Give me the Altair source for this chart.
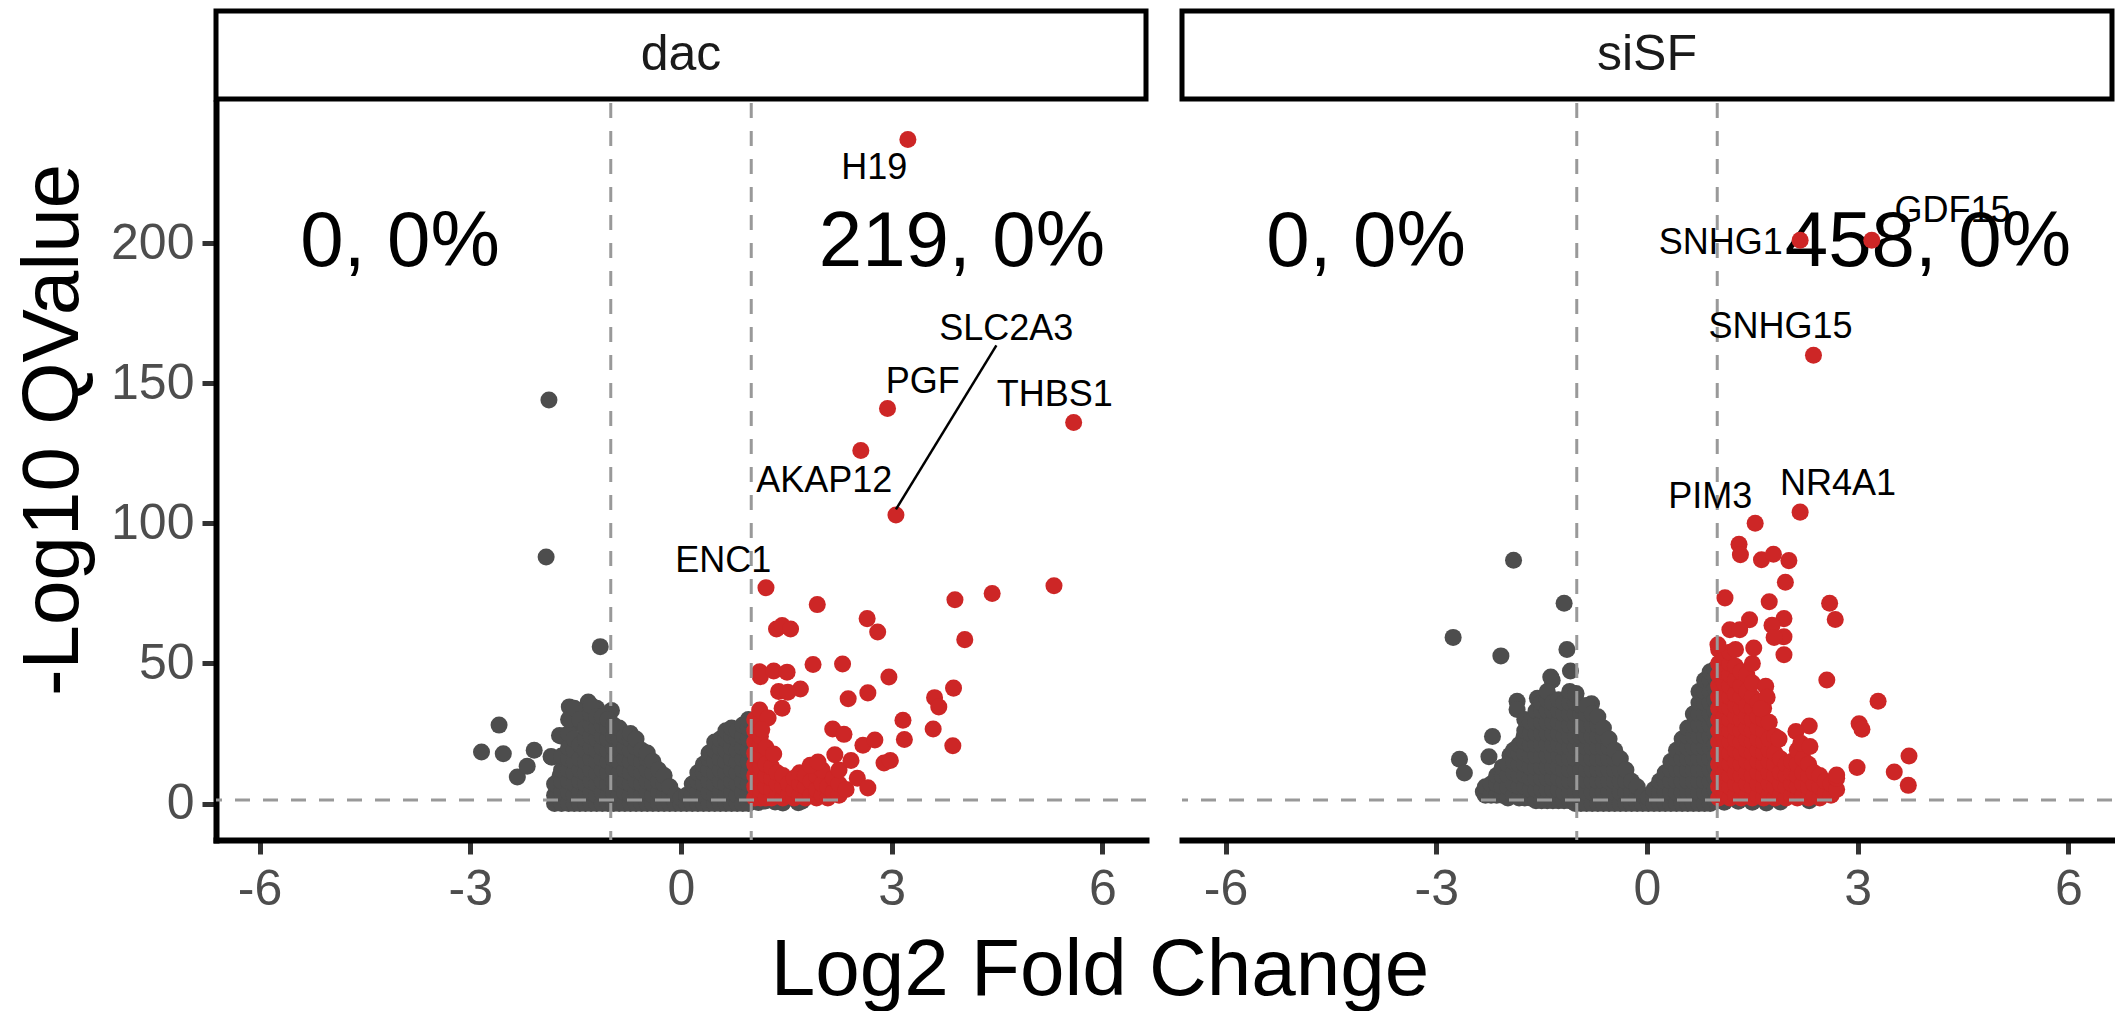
import altair as alt
import pandas as pd

FONT = "Liberation Sans"

# ------------------------------------------------------------------ data
panels = ["dac", "siSF"]
x_ticks = [-6, -3, 0, 3, 6]
y_ticks = [0, 50, 100, 150, 200]
fc_cut = [-1, 1]
q_cut = [1.3]
x_domain = [-6.62, 6.62]
y_domain = [-13, 250]

# corner annotations: (x, y, text)
dac_counts = [[-4, 200, "0, 0%"], [4, 200, "219, 0%"]]
sisf_counts = [[-4, 200, "0, 0%"], [4, 200, "458, 0%"]]

# ---- dac panel
dac_grey_out = [
    [-1.88, 144], [-1.92, 88], [-1.15, 56], [-2.59, 28], [-2.84, 18.4],
    [-2.53, 17.8], [-2.09, 19], [-2.33, 9.5], [-2.19, 13.3], [-1.84, 16.5],
    [-1.72, 10], [-1.70, 24], [-0.99, 33.2], [-1.32, 36.2], [-1.59, 34.5],
    [-1.20, 34], [-1.36, 31.3], [-1.52, 28.4], [-1.73, 24.3], [-1.85, 16.8],
    [1.10, 0.4], [1.20, 0.9], [1.34, 0.6], [1.45, 0.2], [1.67, 0.3], [1.72, 0.8],
]
dac_grey_cols = {
    -1.80: [0, 3, 7], -1.70: [0, 4, 8, 12, 17], -1.60: [0, 4, 8, 12, 16, 20, 25, 30],
    -1.52: [0, 3, 7, 11, 15, 19, 23, 34], -1.44: [0, 4, 8, 12, 16, 21, 30],
    -1.36: [0, 3, 7, 11, 15, 19, 23, 27], -1.28: [0, 4, 8, 12, 16, 20, 24, 28, 32, 35],
    -1.20: [0, 3, 7, 11, 15, 19, 23, 27, 31], -1.12: [0, 4, 8, 12, 16, 20, 24, 28, 31],
    -1.04: [0, 3, 7, 11, 15, 19, 23, 27, 30], -0.96: [0, 4, 8, 12, 16, 20, 24, 28],
    -0.88: [0, 3, 7, 11, 15, 19, 23, 27], -0.80: [0, 4, 8, 12, 16, 20, 24],
    -0.72: [0, 3, 7, 11, 15, 19, 23, 25], -0.64: [0, 4, 8, 12, 16, 20, 23],
    -0.56: [0, 3, 7, 11, 15, 19], -0.48: [0, 4, 8, 12, 16, 18], -0.40: [0, 3, 7, 11, 15],
    -0.32: [0, 4, 8, 12], -0.24: [0, 3, 7, 10], -0.16: [0, 3, 6], -0.08: [0, 3],
    0.00: [0, 2], 0.08: [0, 3], 0.16: [0, 3, 7], 0.24: [0, 4, 8, 11],
    0.32: [0, 3, 7, 11, 14], 0.40: [0, 4, 8, 12, 16, 18], 0.48: [0, 3, 7, 11, 15, 19, 22],
    0.56: [0, 4, 8, 12, 16, 20, 23], 0.64: [0, 3, 7, 11, 15, 19, 23, 26],
    0.72: [0, 4, 8, 12, 16, 20, 24, 27], 0.80: [0, 3, 7, 11, 15, 19, 23, 26],
    0.88: [0, 4, 8, 12, 16, 20, 24, 28], 0.96: [0, 3, 7, 11, 15, 19, 23, 27, 30],
}
dac_red_out = [
    [3.23, 237], [2.94, 141], [5.59, 136], [2.56, 126], [3.06, 103], [1.21, 77],
    [1.94, 71], [5.31, 77.7], [4.43, 75], [3.90, 72.7], [2.65, 66], [2.80, 61.2],
    [4.04, 58.5], [1.36, 62.3], [1.44, 63.5], [1.56, 62.3], [1.12, 47], [1.13, 45.3],
    [1.32, 47.3], [1.51, 46.9], [1.88, 49.6], [2.30, 49.8], [2.96, 45.2], [1.70, 40.9],
    [1.39, 40], [1.52, 39.7], [2.38, 37.4], [2.66, 39.5], [3.88, 41.2], [3.61, 37.8],
    [3.67, 34.5], [1.44, 34], [1.12, 33.4], [1.24, 30.5], [3.16, 29.7], [3.18, 22.9],
    [3.59, 26.6], [3.87, 20.6], [2.16, 26.6], [2.32, 24.7], [2.59, 20.8], [2.76, 22.7],
    [2.89, 14.5], [2.98, 15.4], [1.84, 13.7], [1.95, 14.8], [2.19, 17.4], [2.42, 15.4],
    [2.51, 9], [2.66, 5.6], [1.32, 17.7], [1.15, 26.4],
]
dac_red_cols = {
    1.05: [2, 6, 10, 14, 18, 22, 26, 30], 1.13: [2, 5, 9, 13, 17, 21, 24],
    1.21: [2, 6, 10, 14, 20], 1.29: [2, 5, 9, 13], 1.37: [3, 7, 11], 1.45: [2, 6, 10],
    1.53: [3, 7], 1.61: [2, 5, 9], 1.69: [3, 7, 11], 1.77: [2, 6, 10], 1.85: [3, 8],
    1.93: [2, 5, 10], 2.01: [3, 7, 12], 2.09: [2, 6], 2.17: [4, 9], 2.25: [3, 7, 12],
    2.35: [5],
}
dac_genes = [
    ["H19", 2.75, 226.7], ["SLC2A3", 4.63, 169.2], ["PGF", 3.44, 150.4],
    ["THBS1", 5.32, 145.7], ["AKAP12", 2.04, 115], ["ENC1", 0.6, 86.5],
]
dac_links = [[4.49, 163.5, 3.06, 105]]

# ---- siSF panel
sisf_grey_out = [
    [-1.90, 86.8], [-1.18, 71.5], [-2.76, 59.3], [-2.08, 52.7], [-1.14, 55],
    [-1.09, 47.3], [-1.35, 44], [-1.37, 45.2], [-1.85, 36.5], [-1.85, 33.6],
    [-1.56, 37.6], [-1.01, 39.3], [-0.79, 35.6], [-2.20, 23.9], [-2.25, 16.7],
    [-2.67, 15.8], [-2.60, 10.9], [-2.33, 4.2], [-1.95, 17.2], [-1.75, 23.9],
    [2.31, 1.0], [1.10, 0.5], [1.30, 0.8], [1.50, 0.5], [1.70, 0.2], [1.90, 0.6],
]
sisf_grey_cols = {
    -2.30: [3, 6], -2.22: [3, 7], -2.14: [3, 7, 10], -2.06: [3, 6, 10, 13],
    -1.98: [2, 6, 10, 14], -1.90: [3, 7, 11, 15, 19], -1.82: [2, 6, 10, 14, 18, 21],
    -1.74: [2, 6, 10, 14, 18, 22, 26, 30], -1.66: [2, 5, 9, 13, 17, 21, 25, 29],
    -1.58: [1, 5, 9, 13, 17, 21, 25, 29, 33], -1.50: [1, 5, 9, 13, 17, 21, 25, 29, 33, 36],
    -1.42: [1, 5, 9, 13, 17, 21, 25, 29, 33, 37, 40],
    -1.34: [1, 5, 9, 13, 17, 21, 25, 29, 33, 36],
    -1.26: [1, 5, 9, 13, 17, 21, 25, 29, 33, 37],
    -1.18: [1, 4, 8, 12, 16, 20, 24, 28, 32, 36],
    -1.10: [1, 4, 8, 12, 16, 20, 24, 28, 32, 36, 40],
    -1.02: [0, 4, 8, 12, 16, 20, 24, 28, 32, 36, 39],
    -0.94: [0, 4, 8, 12, 16, 20, 24, 28, 32, 35],
    -0.86: [0, 4, 8, 12, 16, 20, 24, 28, 32, 35],
    -0.78: [0, 4, 8, 12, 16, 20, 24, 28, 32],
    -0.70: [0, 4, 8, 12, 16, 20, 24, 28, 31], -0.62: [0, 4, 8, 12, 16, 20, 24, 27],
    -0.54: [0, 4, 8, 12, 16, 20, 23], -0.46: [0, 4, 8, 12, 16, 19],
    -0.38: [0, 4, 8, 12, 16], -0.30: [0, 4, 8, 12], -0.22: [0, 4, 8],
    -0.14: [0, 3, 6], -0.06: [0, 3], 0.02: [0, 2], 0.10: [0, 3, 5], 0.18: [0, 4, 8],
    0.26: [0, 4, 8, 11], 0.34: [0, 4, 8, 12, 15], 0.42: [0, 4, 8, 12, 16, 19],
    0.50: [0, 4, 8, 12, 16, 20, 23], 0.58: [0, 4, 8, 12, 16, 20, 24, 27],
    0.66: [0, 4, 8, 12, 16, 20, 24, 28, 32],
    0.74: [0, 4, 8, 12, 16, 20, 24, 28, 32, 36, 40],
    0.82: [0, 4, 8, 12, 16, 20, 24, 28, 32, 36, 40, 44],
    0.90: [0, 4, 8, 12, 16, 20, 24, 28, 32, 36, 40, 44, 47],
    0.97: [1, 5, 9, 13, 17, 21, 25, 29, 33, 37, 41, 45, 48],
}
sisf_red_out = [
    [2.18, 201], [3.20, 201], [2.37, 160], [2.18, 104], [1.54, 100],
    [1.31, 92.5], [1.33, 88.8], [1.63, 87], [1.80, 89], [2.02, 86.7], [1.97, 79],
    [1.11, 73.4], [1.74, 72], [2.60, 71.5], [2.68, 65.7], [1.46, 65.6], [1.95, 66],
    [1.78, 63.6], [1.95, 59.5], [1.81, 59.3], [1.95, 53.1], [1.52, 55.5], [1.18, 62],
    [1.32, 62], [1.01, 56.7], [2.56, 44.1], [3.29, 36.5], [3.02, 28.5], [3.06, 26.5],
    [2.99, 12.9], [3.52, 11.3], [3.73, 17], [3.72, 6.5], [2.31, 27.7], [2.12, 25.7],
    [2.19, 21.5], [2.32, 20.4], [1.88, 23], [1.69, 41.9], [1.71, 37.9], [1.62, 33.8],
    [2.70, 10.2],
]
sisf_red_cols = {
    1.02: [2, 6, 10, 14, 18, 22, 26, 30, 34, 38, 42, 46, 50, 55],
    1.10: [3, 7, 11, 15, 19, 23, 27, 31, 35, 39, 43, 47, 52],
    1.18: [2, 6, 10, 14, 18, 22, 26, 30, 34, 38, 42, 46, 50, 54],
    1.26: [3, 7, 11, 15, 19, 23, 27, 31, 35, 39, 44, 49, 55],
    1.34: [2, 6, 10, 14, 18, 22, 26, 30, 34, 38, 42, 47],
    1.42: [3, 7, 11, 15, 19, 23, 27, 31, 35, 40, 46],
    1.50: [2, 6, 10, 14, 18, 22, 26, 30, 34, 38, 43, 50],
    1.58: [3, 7, 11, 15, 19, 23, 27, 31, 36], 1.66: [2, 6, 10, 14, 18, 22, 26, 30, 34],
    1.74: [3, 7, 11, 15, 19, 23, 29], 1.82: [2, 6, 10, 14, 18, 24], 1.90: [3, 7, 11, 16],
    1.98: [2, 6, 10, 14], 2.06: [3, 7, 11, 15], 2.14: [2, 6, 10, 14, 19],
    2.22: [3, 7, 11, 16], 2.30: [2, 6, 10, 14], 2.38: [3, 7, 11], 2.46: [2, 6, 10],
    2.54: [4, 8], 2.62: [3, 7], 2.70: [5, 9],
}
sisf_genes = [
    ["SNHG1", 1.05, 200], ["GDF15", 4.35, 211.6], ["SNHG15", 1.9, 170],
    ["PIM3", 0.9, 109.4], ["NR4A1", 2.72, 114],
]
sisf_links = []

# ------------------------------------------------------------------ build
W = 930
H = 737
GREY = "#4D4D4D"
RED = "#CD2626"


def points_frame(grey_out, grey_cols, red_out, red_cols):
    rows = []
    for x, y in grey_out:
        rows.append({"x": x, "y": y, "sig": "no"})
    for x, ys in grey_cols.items():
        for y in ys:
            rows.append({"x": x, "y": y, "sig": "no"})
    for x, ys in red_cols.items():
        for y in ys:
            rows.append({"x": x, "y": y, "sig": "up"})
    for x, y in red_out:
        rows.append({"x": x, "y": y, "sig": "up"})
    return pd.DataFrame(rows)


def enc_x():
    return alt.X("x:Q", scale=alt.Scale(domain=x_domain, nice=False, zero=False),
                 axis=alt.Axis(values=x_ticks, title=None, labelExpr="datum.value + ''"))


def enc_y(show):
    ax = alt.Axis(values=y_ticks, title=None, labelExpr="datum.value + ''") if show else None
    return alt.Y("y:Q", scale=alt.Scale(domain=y_domain, nice=False, zero=False), axis=ax)


def make_panel(name, pts, counts, genes, links, show_y):
    X = enc_x()
    Y = enc_y(show_y)
    cnt_df = pd.DataFrame(counts, columns=["x", "y", "label"])
    gene_df = pd.DataFrame(genes, columns=["gene", "x", "y"])
    strip_df = pd.DataFrame({"panel": [name]})

    layers = []
    layers.append(alt.Chart(cnt_df).mark_text(font=FONT, fontSize=78, color="black",
                                               baseline="middle").encode(x=X, y=Y, text="label:N"))
    layers.append(alt.Chart(pts).mark_circle(size=290, opacity=1).encode(
        x=X, y=Y,
        color=alt.Color("sig:N", scale=alt.Scale(domain=["no", "up"], range=[GREY, RED]), legend=None)))
    layers.append(alt.Chart(pd.DataFrame({"x": fc_cut})).mark_rule(
        color="#999999", strokeWidth=3, strokeDash=[15, 13]).encode(x=X))
    layers.append(alt.Chart(pd.DataFrame({"y": q_cut})).mark_rule(
        color="#999999", strokeWidth=3, strokeDash=[15, 13]).encode(y=Y))
    if links:
        link_df = pd.DataFrame(links, columns=["x", "y", "x2", "y2"])
        layers.append(alt.Chart(link_df).mark_rule(color="black", strokeWidth=2.5).encode(
            x=X, y=Y, x2="x2:Q", y2="y2:Q"))
    layers.append(alt.Chart(gene_df).mark_text(font=FONT, fontSize=36, color="black",
                                                baseline="middle").encode(x=X, y=Y, text="gene:N"))
    layers.append(alt.Chart(strip_df).mark_rect(fill="white", stroke="black", strokeWidth=5).encode(
        x=alt.value(0), x2=alt.value(W), y=alt.value(-92), y2=alt.value(-4)))
    layers.append(alt.Chart(strip_df).mark_text(font=FONT, fontSize=50, color="#1A1A1A",
                                                 baseline="middle").encode(
        x=alt.value(W / 2), y=alt.value(-48), text="panel:N"))
    if show_y:
        ttl = pd.DataFrame({"t": ["-Log10 QValue"]})
        layers.append(alt.Chart(ttl).mark_text(font=FONT, fontSize=80, color="black", angle=270,
                                               baseline="middle", align="center").encode(
            x=alt.value(-162), y=alt.value(327), text="t:N"))
        xt = pd.DataFrame({"t": ["Log2 Fold Change"]})
        layers.append(alt.Chart(xt).mark_text(font=FONT, fontSize=80, color="black",
                                              baseline="alphabetic", align="center").encode(
            x=alt.value(884), y=alt.value(H + 155), text="t:N"))
    return alt.layer(*layers).properties(width=W, height=H)


left = make_panel("dac", points_frame(dac_grey_out, dac_grey_cols, dac_red_out, dac_red_cols),
                  dac_counts, dac_genes, dac_links, True)
right = make_panel("siSF", points_frame(sisf_grey_out, sisf_grey_cols, sisf_red_out, sisf_red_cols),
                   sisf_counts, sisf_genes, sisf_links, False)

chart = alt.hconcat(left, right, spacing=36, bounds="flush").properties(
    padding={"left": 6, "top": 0, "right": 0, "bottom": 0}
).configure_view(
    stroke=None
).configure_axis(
    grid=False, domainColor="black", domainWidth=6, domainCap="square",
    tickColor="#333333", tickWidth=5, tickSize=14,
    labelFont=FONT, labelFontSize=50, labelColor="#4D4D4D", labelPadding=8,
).configure_axisX(labelPadding=10)

chart.save("out.html", embed_options={"renderer": "svg", "actions": False})
